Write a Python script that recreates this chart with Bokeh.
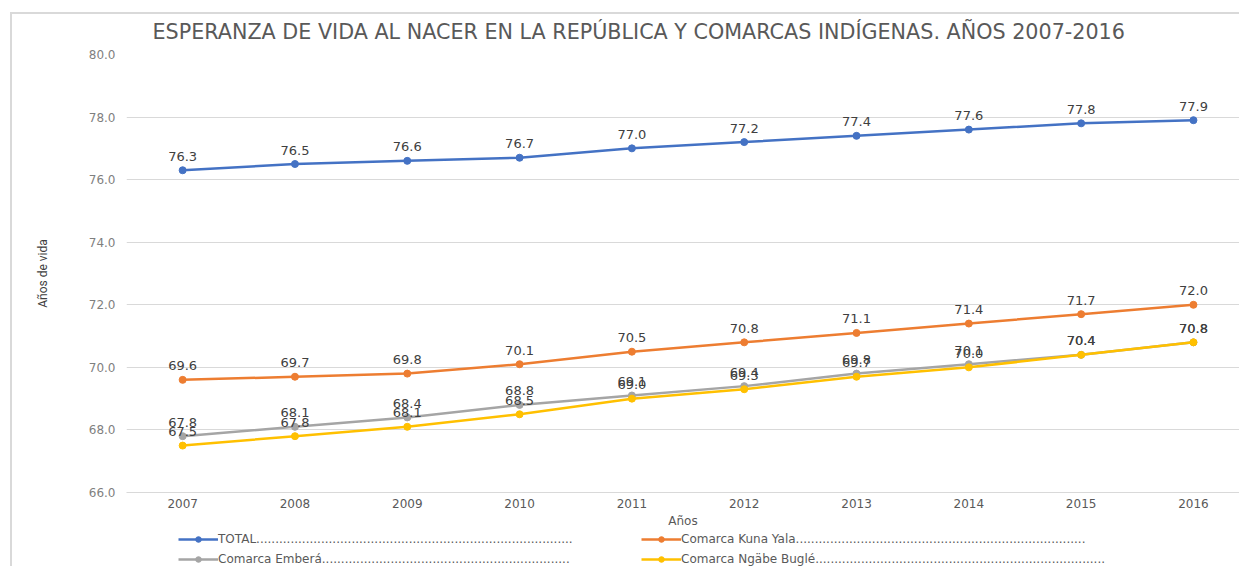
from bokeh.plotting import figure
from bokeh.layouts import column
from bokeh.models import (Range1d, FixedTicker, NumeralTickFormatter, Legend,
                          LegendItem, ColumnDataSource)
from bokeh.core.properties import value
from bokeh.embed import file_html
from bokeh.resources import INLINE

years = [2007, 2008, 2009, 2010, 2011, 2012, 2013, 2014, 2015, 2016]
total = [76.3, 76.5, 76.6, 76.7, 77.0, 77.2, 77.4, 77.6, 77.8, 77.9]
kuna_yala = [69.6, 69.7, 69.8, 70.1, 70.5, 70.8, 71.1, 71.4, 71.7, 72.0]
embera = [67.8, 68.1, 68.4, 68.8, 69.1, 69.4, 69.8, 70.1, 70.4, 70.8]
ngabe_bugle = [67.5, 67.8, 68.1, 68.5, 69.0, 69.3, 69.7, 70.0, 70.4, 70.8]

series_names = ["TOTAL", "Comarca Kuna Yala", "Comarca Emberá", "Comarca Ngäbe Buglé"]
series_values = [total, kuna_yala, embera, ngabe_bugle]
series_colors = ["#4472C4", "#ED7D31", "#A5A5A5", "#FFC000"]
legend_dots = [83, 76, 65, 76]
y_ticks = [66, 68, 70, 72, 74, 76, 78, 80]

title_text = "ESPERANZA DE VIDA AL NACER EN LA REPÚBLICA Y COMARCAS INDÍGENAS. AÑOS 2007-2016"

p = figure(width=1239, height=530, output_backend="svg", toolbar_location=None,
           x_range=Range1d(2006.5, 2016.41), y_range=Range1d(66, 80),
           min_border_left=126, min_border_right=0, min_border_top=54,
           min_border_bottom=37)
p.outline_line_color = None
p.background_fill_color = "white"
p.border_fill_alpha = 0

p.title.text = title_text
p.title.text_font = "DejaVu Sans"
p.title.text_font_size = "20.7px"
p.title.text_font_style = "normal"
p.title.text_color = "#595959"
p.title.align = "left"
p.title.offset = 26
p.title.standoff = 22

p.xgrid.visible = False
p.ygrid.grid_line_color = "#d9d9d9"
p.ygrid.grid_line_width = 1

p.yaxis.ticker = FixedTicker(ticks=y_ticks)
p.yaxis.formatter = NumeralTickFormatter(format="0.0")
p.yaxis.axis_line_color = None
p.yaxis.major_tick_line_color = None
p.yaxis.minor_tick_line_color = None
p.yaxis.major_tick_out = 0
p.yaxis.minor_tick_out = 0
p.yaxis.major_label_text_font = "DejaVu Sans"
p.yaxis.major_label_text_font_size = "12px"
p.yaxis.major_label_text_color = "#7f7f7f"
p.yaxis.major_label_standoff = 11
p.yaxis.axis_label = "Años de vida"
p.yaxis.axis_label_text_font = "Roboto"
p.yaxis.axis_label_text_font_size = "12px"
p.yaxis.axis_label_text_font_style = "normal"
p.yaxis.axis_label_text_color = "#404040"
p.yaxis.axis_label_standoff = 36

p.xaxis.ticker = FixedTicker(ticks=years)
p.xaxis.axis_line_color = "#d9d9d9"
p.xaxis.major_tick_line_color = None
p.xaxis.minor_tick_line_color = None
p.xaxis.major_tick_out = 0
p.xaxis.minor_tick_out = 0
p.xaxis.major_label_text_font = "DejaVu Sans"
p.xaxis.major_label_text_font_size = "12px"
p.xaxis.major_label_text_color = "#595959"
p.xaxis.major_label_standoff = 6
p.xaxis.axis_label = "Años"
p.xaxis.axis_label_text_font = "DejaVu Sans"
p.xaxis.axis_label_text_font_size = "12px"
p.xaxis.axis_label_text_font_style = "normal"
p.xaxis.axis_label_text_color = "#595959"
p.xaxis.axis_label_standoff = 3

# legend strip below the chart (its ranges keep the series out of view)
lg = figure(width=1239, height=36, output_backend="svg", toolbar_location=None,
            x_range=Range1d(0, 1), y_range=Range1d(0, 1),
            x_axis_location=None, y_axis_location=None,
            min_border=0, min_border_left=0, min_border_right=0,
            min_border_top=0, min_border_bottom=0)
lg.outline_line_color = None
lg.grid.visible = False
lg.background_fill_alpha = 0
lg.border_fill_alpha = 0

items = []
for name, vals, color, nd in zip(series_names, series_values, series_colors, legend_dots):
    src = ColumnDataSource(dict(x=years, y=vals, t=[f"{v:.1f}" for v in vals]))
    p.line("x", "y", source=src, line_color=color, line_width=2.5)
    p.scatter("x", "y", source=src, marker="circle", size=7,
              fill_color=color, line_color=color)
    p.text("x", "y", text="t", source=src, text_align="center",
           text_baseline="middle", y_offset=-14, text_font=value("DejaVu Sans"),
           text_font_size="13px", text_color="#404040")
    k1 = lg.line("x", "y", source=src, line_color=color, line_width=2.5)
    k2 = lg.scatter("x", "y", source=src, marker="circle", size=7,
                    fill_color=color, line_color=color)
    items.append(LegendItem(label=name + "." * nd, renderers=[k1, k2]))


def make_legend(its, loc):
    return Legend(items=its, location=loc, orientation="vertical",
                  glyph_width=40, glyph_height=14, label_height=14,
                  label_standoff=0, spacing=6, padding=0, margin=0,
                  border_line_color=None, background_fill_alpha=0,
                  label_text_font="DejaVu Sans", label_text_font_size="12px",
                  label_text_color="#595959")


lg.add_layout(make_legend([items[0], items[2]], (52, 0)))
lg.add_layout(make_legend([items[1], items[3]], (515, 0)))

layout = column(p, lg, spacing=0)
layout.styles = {
    "background-color": "white",
    "background-image": "linear-gradient(#d9d9d9, #d9d9d9), linear-gradient(#d9d9d9, #d9d9d9)",
    "background-size": "2px 100%, 100% 2px",
    "background-position": "10px 12px, 10px 12px",
    "background-repeat": "no-repeat",
}

open("out.html", "w").write(file_html(layout, INLINE))
